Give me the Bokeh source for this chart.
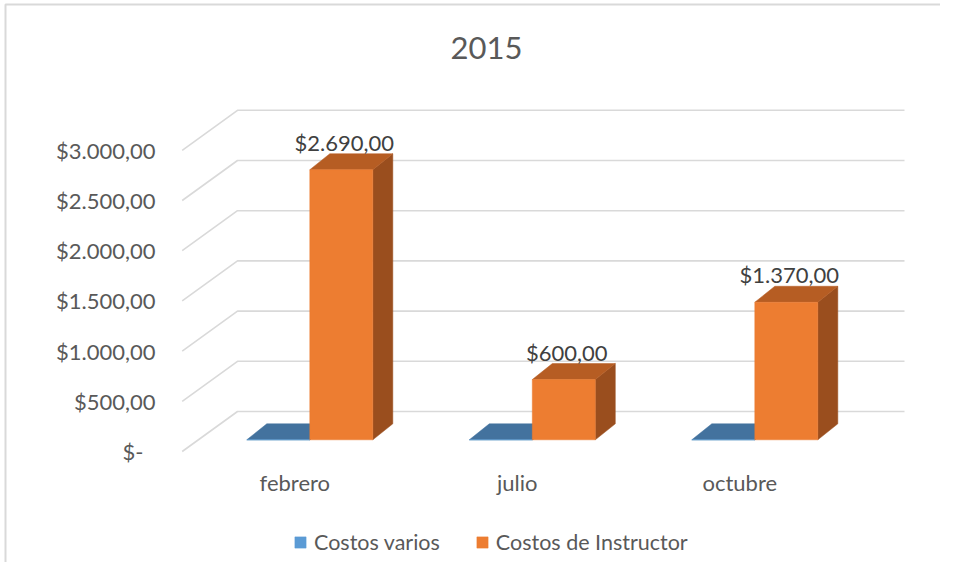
from bokeh.plotting import figure
from bokeh.models import Range1d, Legend, LegendItem, Label, ColumnDataSource
from bokeh.core.properties import value
from bokeh.embed import file_html
from bokeh.resources import INLINE

# ---------------- data ----------------
chart_title = "2015"
months = ["febrero", "julio", "octubre"]
costos_varios = [0, 0, 0]
costos_instructor = [2690, 600, 1370]
series_names = ["Costos varios", "Costos de Instructor"]
y_ticks = [0, 500, 1000, 1500, 2000, 2500, 3000]

# ---------------- style / geometry ----------------
FONT = "Lato"
W, H = 940, 562
PX_PER_CAT = 222.5            # pixels between categories
PX_PER_DOLLAR = 50.2 / 500.0  # pixels per dollar
UX = 1.0 / PX_PER_CAT         # x data units per pixel
UY = 1.0 / PX_PER_DOLLAR      # y data units per pixel

CAT0_X = 309.3                # canvas px of first category centre
BASE_Y = 439.3                # canvas px of bar base
FRONT_DROP = 11.7             # floor front edge below bar base (px)
BACK_RISE = 28.3              # back wall above bar base (px)
BACK_LEFT = -72.3             # back wall left, px from category 0
BACK_RIGHT = 594.7            # back wall right, px from category 0
FRONT_LEFT = -127.6           # floor front-left, px from category 0
LABEL_RIGHT = -154.3          # value labels right edge, px from category 0
BW = 63 * UX                  # bar width
DX, DY = 20 * UX, 16 * UY     # depth offset

x_start = -CAT0_X * UX
x_end = (W - CAT0_X) * UX
y_start = -(H - BASE_Y) * UY
y_end = BASE_Y * UY

p = figure(width=W, height=H, output_backend="svg", toolbar_location=None,
           x_range=Range1d(x_start, x_end), y_range=Range1d(y_start, y_end),
           x_axis_type=None, y_axis_type=None, title=None,
           min_border_left=0, min_border_right=0, min_border_top=0, min_border_bottom=0)
p.outline_line_color = None
p.background_fill_color = "white"
p.border_fill_color = "white"

# chart area border (left and top edges visible)
p.multi_line([[x_start + 5 * UX, x_start + 5 * UX, x_end]],
             [[y_start, y_end - 4 * UY, y_end - 4 * UY]],
             line_color="#D9D9D9", line_width=2)

# gridlines (back wall + floor diagonal)
gx, gy = [], []
for t in y_ticks:
    gx.append([FRONT_LEFT * UX, BACK_LEFT * UX, BACK_RIGHT * UX])
    gy.append([t - FRONT_DROP * UY, t + BACK_RISE * UY, t + BACK_RISE * UY])
p.multi_line(gx, gy, line_color="#D9D9D9", line_width=1.6)


def money(v):
    if v == 0:
        return "$-"
    s = f"{int(round(v)):,}".replace(",", ".")
    return "$" + s + ",00"


# value-axis labels on the front plane
ysrc = ColumnDataSource(dict(
    x=[(LABEL_RIGHT - (12 if t == 0 else 0)) * UX for t in y_ticks],
    y=[t - FRONT_DROP * UY for t in y_ticks],
    t=[money(t) for t in y_ticks]))
p.text(x="x", y="y", text="t", source=ysrc, text_align="right", text_baseline="middle",
       text_font=value(FONT), text_font_size="22px", text_color="#595959")


def bars(values, shift, front_col, side_col, top_col):
    fl, fr, ft = [], [], []
    sxs, sys_, txs, tys = [], [], [], []
    for i, v in enumerate(values):
        x0 = i + shift
        x1 = x0 + BW
        fl.append(x0); fr.append(x1); ft.append(v)
        sxs.append([x1, x1 + DX, x1 + DX, x1]); sys_.append([0, DY, v + DY, v])
        txs.append([x0, x0 + DX, x1 + DX, x1]); tys.append([v, v + DY, v + DY, v])
    p.patches(sxs, sys_, fill_color=side_col, line_color=side_col, line_width=0.5)
    p.patches(txs, tys, fill_color=top_col, line_color=top_col, line_width=0.5)
    return p.quad(left=fl, right=fr, bottom=[0] * len(values), top=ft,
                  fill_color=front_col, line_color=front_col, line_width=0.5)


r1 = bars(costos_varios, -BW, "#5B9BD5", "#3A6B96", "#43729E")
r2 = bars(costos_instructor, 0, "#ED7D31", "#9A4E1E", "#B65D23")

# data labels
src = ColumnDataSource(dict(
    x=[i + BW / 2 + 3 * UX for i in range(len(months))],
    y=[v + DY + 11.5 * UY for v in costos_instructor],
    t=[money(v) for v in costos_instructor]))
p.text(x="x", y="y", text="t", source=src, text_align="center", text_baseline="middle",
       text_font=value(FONT), text_font_size="22px", text_color="#404040")

# category labels
csrc = ColumnDataSource(dict(x=[i - 15 * UX for i in range(len(months))],
                             y=[-42.7 * UY] * len(months), t=months))
p.text(x="x", y="y", text="t", source=csrc, text_align="center", text_baseline="middle",
       text_font=value(FONT), text_font_size="22px", text_color="#595959")

# title
p.add_layout(Label(x=486, y=H - 47, x_units="screen", y_units="screen", text=chart_title,
                   text_align="center", text_baseline="middle", text_font=FONT,
                   text_font_size="31px", text_color="#595959"))

# legend
legend = Legend(items=[LegendItem(label=series_names[0], renderers=[r1]),
                       LegendItem(label=series_names[1], renderers=[r2])],
                orientation="horizontal", location=(293, 7),
                glyph_width=14, glyph_height=14, label_standoff=7, spacing=35,
                padding=0, margin=0, border_line_alpha=0, background_fill_alpha=0,
                label_text_font=FONT, label_text_font_size="21.5px", label_text_color="#595959",
                label_height=14)
p.add_layout(legend)

open("out.html", "w").write(file_html(p, INLINE))
